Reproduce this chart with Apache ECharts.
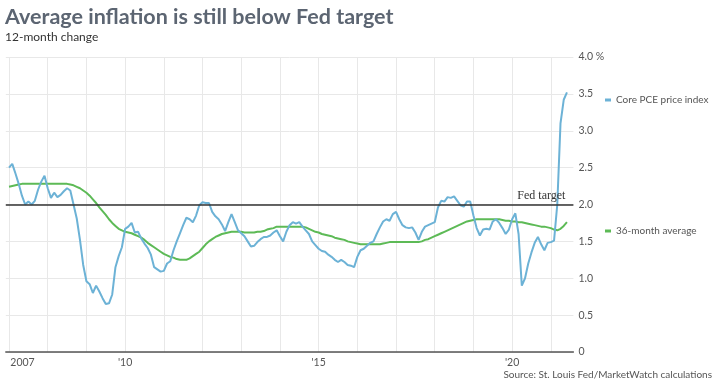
<!DOCTYPE html>
<html>
<head>
<meta charset="utf-8">
<script src="https://cdn.jsdelivr.net/npm/echarts@6/dist/echarts.min.js"></script>
<style>html,body{margin:0;padding:0;background:#fff;}#c{width:720px;height:387px;}</style>
</head>
<body>
<div id="c"></div>
<script>
// Monthly data, Jan 2007 – Jun 2021
const startYear = 2007;
const corePCE = [
 2.50,2.55,2.42,2.28,2.12,2.00,2.04,2.00,2.05,2.20,
 2.31,2.39,2.22,2.09,2.16,2.10,2.13,2.18,2.22,2.19,
 2.00,1.81,1.52,1.18,0.96,0.92,0.80,0.90,0.82,0.73,
 0.65,0.66,0.78,1.15,1.30,1.42,1.67,1.70,1.75,1.62,
 1.63,1.54,1.47,1.41,1.32,1.15,1.12,1.09,1.10,1.20,
 1.23,1.38,1.50,1.61,1.72,1.82,1.80,1.76,1.85,1.99,
 2.03,2.02,2.02,1.90,1.84,1.80,1.73,1.64,1.76,1.87,
 1.76,1.65,1.61,1.57,1.50,1.43,1.44,1.49,1.53,1.56,
 1.56,1.58,1.62,1.65,1.57,1.50,1.63,1.72,1.76,1.74,
 1.76,1.70,1.65,1.60,1.50,1.45,1.40,1.37,1.36,1.32,
 1.29,1.25,1.22,1.25,1.22,1.18,1.17,1.15,1.29,1.38,
 1.40,1.44,1.48,1.50,1.60,1.69,1.77,1.80,1.78,1.87,
 1.90,1.80,1.72,1.69,1.68,1.69,1.62,1.52,1.63,1.70,
 1.72,1.74,1.76,1.96,2.05,2.04,2.10,2.09,2.11,2.05,
 1.99,1.97,2.04,2.04,1.85,1.68,1.58,1.66,1.67,1.66,
 1.77,1.80,1.75,1.68,1.60,1.66,1.80,1.88,1.60,0.90,
 1.00,1.20,1.35,1.48,1.56,1.46,1.38,1.48,1.49,1.51,
 2.00,3.10,3.42,3.52
];
const avg36 = [
 2.24,2.25,2.26,2.27,2.28,2.28,2.28,2.28,2.28,2.28,
 2.28,2.28,2.28,2.28,2.28,2.28,2.28,2.28,2.28,2.27,
 2.26,2.24,2.22,2.19,2.16,2.12,2.07,2.02,1.96,1.91,
 1.86,1.80,1.75,1.71,1.67,1.65,1.63,1.62,1.61,1.59,
 1.57,1.55,1.52,1.48,1.45,1.42,1.39,1.36,1.33,1.31,
 1.29,1.28,1.26,1.25,1.25,1.25,1.27,1.30,1.33,1.36,
 1.41,1.46,1.50,1.53,1.56,1.58,1.60,1.61,1.62,1.63,
 1.63,1.63,1.63,1.62,1.62,1.62,1.62,1.63,1.63,1.64,
 1.66,1.67,1.68,1.70,1.70,1.70,1.70,1.70,1.70,1.70,
 1.70,1.70,1.69,1.67,1.65,1.63,1.62,1.60,1.59,1.58,
 1.57,1.55,1.54,1.53,1.52,1.50,1.49,1.48,1.47,1.46,
 1.46,1.46,1.46,1.46,1.46,1.46,1.47,1.48,1.49,1.49,
 1.49,1.49,1.49,1.49,1.49,1.49,1.49,1.49,1.50,1.52,
 1.53,1.55,1.57,1.59,1.61,1.63,1.65,1.67,1.69,1.71,
 1.73,1.75,1.77,1.78,1.79,1.80,1.80,1.80,1.80,1.80,
 1.80,1.80,1.80,1.79,1.78,1.78,1.77,1.77,1.76,1.76,
 1.75,1.74,1.73,1.72,1.71,1.70,1.70,1.69,1.68,1.66,
 1.65,1.67,1.71,1.76
];
const xTickLabels = {'2007-01':'2007','2010-01':"'10",'2015-01':"'15",'2020-01':"'20"};
const yTickValues = [0,0.5,1,1.5,2,2.5,3,3.5,4];
const fedTarget = 2.0;
const seriesNames = ['Core PCE price index','36-month average'];

// Axis categories: one month of padding before, two after
const months = [];
for (let y = 2006, m = 12; !(y === 2021 && m === 9); ) {
  months.push(y + '-' + String(m).padStart(2,'0'));
  m++; if (m > 12) { m = 1; y++; }
}
const pad = (arr) => [null].concat(arr, new Array(months.length - 1 - arr.length).fill(null));

const BLUE = '#6cb2d6', GREEN = '#5dba56';
const chart = echarts.init(document.getElementById('c'), null, {renderer:'canvas'});
chart.setOption({
  animation:false,
  backgroundColor:'#fff',
  textStyle:{fontFamily:'Lato'},
  title:[
    {text:'Average inflation is still below Fed target', left:0, top:1,
     textStyle:{fontFamily:'Lato', fontWeight:'bold', fontSize:21.5, color:'#5c6572'},
     subtext:'12-month change', itemGap:3,
     subtextStyle:{fontFamily:'Lato', fontSize:12, color:'#333'}},
    {text:'Source: St. Louis Fed/MarketWatch calculations', right:3, bottom:2,
     textStyle:{fontFamily:'Lato', fontWeight:'normal', fontSize:10, color:'#555'}}
  ],
  legend:[
    {data:[seriesNames[0]], left:600, top:90, icon:'rect', itemWidth:6, itemHeight:3,
     textStyle:{color:'#555', fontSize:10, fontFamily:'Lato'}},
    {data:[seriesNames[1]], left:600, top:221, icon:'rect', itemWidth:6, itemHeight:3,
     textStyle:{color:'#555', fontSize:10, fontFamily:'Lato'}}
  ],
  grid:{left:5.8, right:146.6, top:57, bottom:35, containLabel:false},
  xAxis:{
    type:'category', data:months, boundaryGap:false,
    axisLine:{show:true, lineStyle:{color:'#555', width:1.5}},
    axisTick:{show:false, interval:(i,v)=>v.endsWith('-01')},
    splitLine:{show:true, interval:(i,v)=>v.endsWith('-01'), lineStyle:{color:'#e8e8e8', width:1}},
    axisLabel:{
      interval:(i,v)=>xTickLabels[v] !== undefined,
      formatter:(v)=> v === '2007-01' ? '{l|2007}' : (xTickLabels[v] || ''),
      color:'#555', fontSize:10.5, margin:5, fontFamily:'Lato',
      rich:{l:{padding:[0,0,0,27], color:'#555', fontSize:10.5, fontFamily:'Lato'}}
    }
  },
  yAxis:{
    type:'value', position:'right', min:0, max:4, interval:0.5,
    axisLine:{show:false}, axisTick:{show:false},
    splitLine:{lineStyle:{color:'#e8e8e8', width:1}},
    axisLabel:{
      margin:5, color:'#555', fontSize:10.5, fontFamily:'Lato',
      formatter:(v)=> v === 0 ? '0' : (v === 4 ? '4.0 %' : v.toFixed(1))
    }
  },
  series:[
    {name:seriesNames[1], type:'line', data:pad(avg36), showSymbol:false, symbol:'none',
     lineStyle:{color:GREEN, width:2}, itemStyle:{color:GREEN}, z:3},
    {name:seriesNames[0], type:'line', data:pad(corePCE), showSymbol:false, symbol:'none',
     lineStyle:{color:BLUE, width:2}, itemStyle:{color:BLUE}, z:4,
     markLine:{silent:true, symbol:['none','none'],
       lineStyle:{color:'#333', width:1.5, type:'solid'},
       label:{show:true, position:'insideEndTop', formatter:'Fed target',
              fontFamily:'Liberation Serif', fontSize:12, color:'#333', distance:[8,3]},
       data:[{yAxis:fedTarget}]}}
  ]
});
</script>
</body>
</html>
